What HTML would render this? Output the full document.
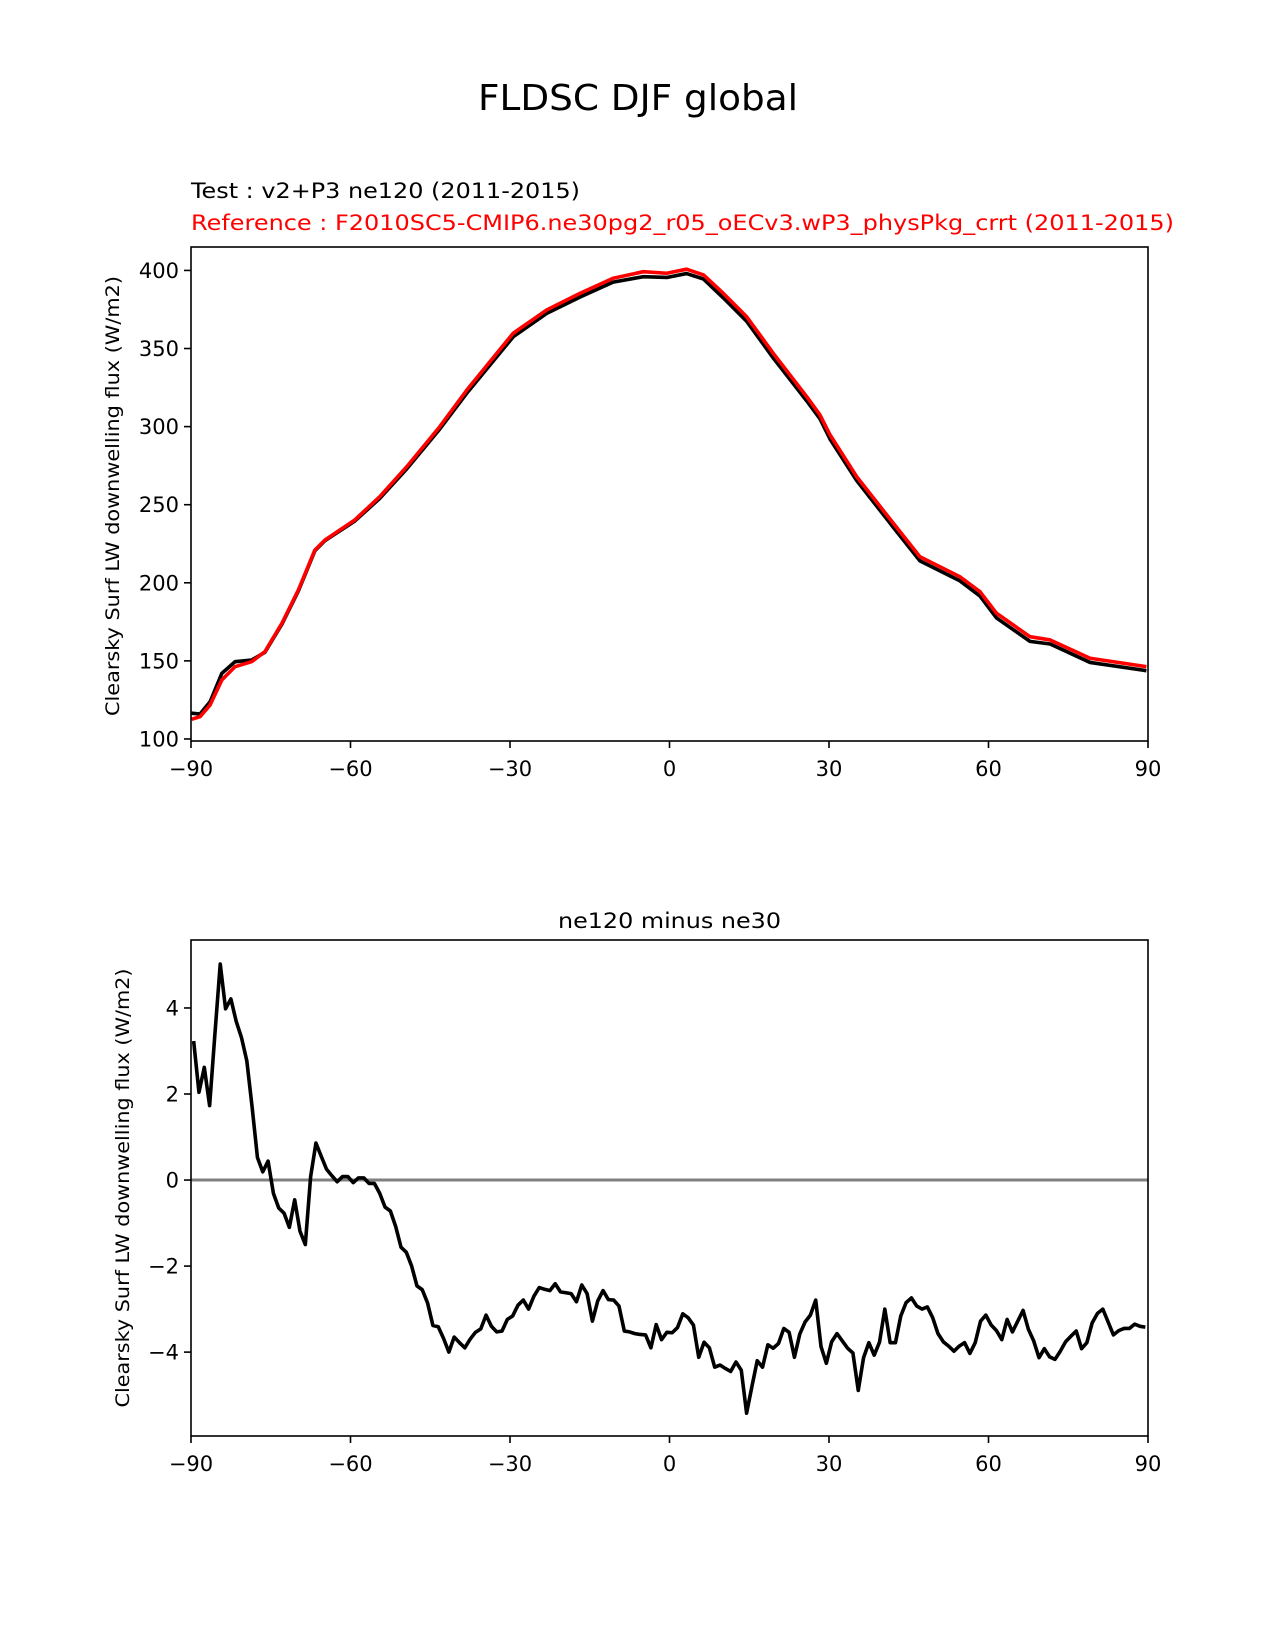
<!DOCTYPE html>
<html><head><meta charset="utf-8"><style>html,body{margin:0;padding:0;background:#fff}svg{display:block}text{font-family:"DejaVu Sans","Liberation Sans",sans-serif}</style></head>
<body>
<svg id="fig" width="1275" height="1650" viewBox="0 0 1275 1650" xmlns="http://www.w3.org/2000/svg">
<rect width="1275" height="1650" fill="#fff"/>
<text x="638" y="110" font-size="36" text-anchor="middle" textLength="320" lengthAdjust="spacingAndGlyphs">FLDSC DJF global</text>
<text x="191" y="198" font-size="21" textLength="389" lengthAdjust="spacingAndGlyphs">Test : v2+P3 ne120 (2011-2015)</text>
<text x="191" y="230" font-size="21" fill="#ff0000" textLength="983" lengthAdjust="spacingAndGlyphs">Reference : F2010SC5-CMIP6.ne30pg2_r05_oECv3.wP3_physPkg_crrt (2011-2015)</text>
<text x="669.5" y="928" font-size="21" text-anchor="middle" textLength="223" lengthAdjust="spacingAndGlyphs">ne120 minus ne30</text>
<text transform="translate(119,496) rotate(-90)" font-size="19" text-anchor="middle" textLength="440" lengthAdjust="spacingAndGlyphs">Clearsky Surf LW downwelling flux (W/m2)</text>
<text transform="translate(129,1188) rotate(-90)" font-size="19" text-anchor="middle" textLength="439" lengthAdjust="spacingAndGlyphs">Clearsky Surf LW downwelling flux (W/m2)</text>
<g id="top"></g>
<g id="bot"></g>
</svg>
<script>
const latsTop = [-89.9,-88.3,-86.4,-84.2,-81.7,-78.6,-76.1,-72.9,-69.8,-66.7,-64.8,-59.2,-54.5,-49.4,-43.2,-38.1,-29.4,-23.1,-16.8,-10.6,-4.9,-0.5,3.2,6.4,10.1,14.5,19.5,25.8,28.3,30.2,35.2,42.1,47.1,54.6,58.4,61.5,67.8,71.6,79.1,89.7];
const refVals = [112.6,114.3,121.8,137.8,146.3,149.5,155.9,174.1,195.4,221,227.4,240.2,255.1,274.4,300.0,323.5,359.8,374.7,385.4,395.0,399.2,398.2,400.8,397.1,385.4,370.4,347,319.2,307.5,294.7,268,238.1,216.7,203.9,194.3,180.5,165.5,163.4,151.7,146.3];
const testVals = [116.5,116,123.9,142,149.5,150.5,155.5,173.5,194.8,220.5,227,239.5,254,273,298.5,321.5,357.5,372.5,383,392.5,396,395.5,398,394.5,382.5,367.5,344,316.5,305,292,265.5,235.5,214,201.3,191.5,177.5,162.5,160.8,149,143.7];
const diffStartLat = -89.5;
const diffVals = [3.23,2.04,2.62,1.73,3.4,5.02,3.98,4.21,3.69,3.31,2.77,1.69,0.52,0.19,0.44,-0.31,-0.65,-0.77,-1.1,-0.46,-1.19,-1.5,0.08,0.86,0.55,0.25,0.1,-0.04,0.08,0.08,-0.06,0.05,0.05,-0.08,-0.08,-0.31,-0.63,-0.72,-1.08,-1.56,-1.68,-2.0,-2.46,-2.55,-2.86,-3.38,-3.41,-3.68,-4.0,-3.65,-3.78,-3.9,-3.7,-3.54,-3.46,-3.14,-3.40,-3.53,-3.51,-3.24,-3.16,-2.91,-2.79,-3.0,-2.70,-2.50,-2.54,-2.57,-2.41,-2.60,-2.62,-2.64,-2.83,-2.44,-2.64,-3.28,-2.81,-2.57,-2.78,-2.79,-2.93,-3.51,-3.53,-3.57,-3.59,-3.60,-3.90,-3.36,-3.71,-3.54,-3.55,-3.43,-3.11,-3.20,-3.37,-4.12,-3.77,-3.9,-4.35,-4.30,-4.38,-4.45,-4.23,-4.42,-5.42,-4.80,-4.20,-4.35,-3.83,-3.91,-3.80,-3.45,-3.54,-4.12,-3.58,-3.30,-3.14,-2.79,-3.87,-4.26,-3.76,-3.57,-3.74,-3.91,-4.02,-4.89,-4.13,-3.78,-4.07,-3.77,-3.0,-3.78,-3.78,-3.16,-2.85,-2.74,-2.93,-3.0,-2.95,-3.2,-3.57,-3.76,-3.86,-3.98,-3.86,-3.78,-4.03,-3.78,-3.28,-3.14,-3.37,-3.5,-3.71,-3.24,-3.53,-3.28,-3.03,-3.47,-3.74,-4.13,-3.92,-4.11,-4.17,-3.98,-3.76,-3.63,-3.51,-3.92,-3.78,-3.32,-3.1,-3.0,-3.3,-3.6,-3.5,-3.45,-3.45,-3.35,-3.4,-3.42];
const xTicks = [-90,-60,-30,0,30,60,90];
const topYTicks = [100,150,200,250,300,350,400];
const botYTicks = [-4,-2,0,2,4];

const NS = 'http://www.w3.org/2000/svg';
function mk(parent, tag, attrs){const e=document.createElementNS(NS,tag);for(const k in attrs)e.setAttribute(k,attrs[k]);parent.appendChild(e);return e;}
function fmt(v){return v<0?'\u2212'+Math.abs(v):''+v;}

function panel(g, box, ymin, ymax, yTicks, prefix){
  const sx = v => box.l + (v+90)/180*(box.r-box.l);
  const sy = v => box.b - (v-ymin)/(ymax-ymin)*(box.b-box.t);
  xTicks.forEach(t=>{
    const tk = mk(g,'line',{x1:sx(t),x2:sx(t),y1:box.b,y2:box.b+7,stroke:'#000','stroke-width':1.6});
    
    
    const tl = mk(g,'text',{x:sx(t),y:box.b+35,'font-size':21,'text-anchor':'middle'});
    tl.textContent = fmt(t);
    
    
  });
  yTicks.forEach(t=>{
    const tk = mk(g,'line',{x1:box.l-7,x2:box.l,y1:sy(t),y2:sy(t),stroke:'#000','stroke-width':1.6});
    
    
    const tl = mk(g,'text',{x:box.l-12,y:sy(t)+7.5,'font-size':21,'text-anchor':'end'});
    tl.textContent = fmt(t);
    
    
  });
  return {sx, sy};
}
function line(g, sx, sy, xs, ys, color, w, name){
  const d = xs.map((x,i)=>(i?'L':'M')+sx(x).toFixed(2)+','+sy(ys[i]).toFixed(2)).join(' ');
  const p = mk(g,'path',{d:d,fill:'none',stroke:color,'stroke-width':w,'stroke-linejoin':'round','stroke-linecap':'butt'});
  
  
  return p;
}

// Top panel
const gt = document.getElementById('top');
const tbox = {l:191,r:1148,t:247,b:741};
const tp = panel(gt, tbox, 98.7, 415, topYTicks, 'top');
const clipT = mk(gt,'clipPath',{id:'ct'}); mk(clipT,'rect',{x:tbox.l,y:tbox.t,width:tbox.r-tbox.l,height:tbox.b-tbox.t});
const gtl = mk(gt,'g',{'clip-path':'url(#ct)'});
line(gtl, tp.sx, tp.sy, latsTop, testVals, '#000', 3.6, 'test-line');
line(gtl, tp.sx, tp.sy, latsTop, refVals, '#ff0000', 3.6, 'reference-line');
const ft = mk(gt,'rect',{x:tbox.l,y:tbox.t,width:tbox.r-tbox.l,height:tbox.b-tbox.t,fill:'none',stroke:'#000','stroke-width':1.6});



// Bottom panel
const gb = document.getElementById('bot');
const bbox = {l:191,r:1148,t:940,b:1436};
const bp = panel(gb, bbox, -5.95, 5.58, botYTicks, 'bottom');
const clipB = mk(gb,'clipPath',{id:'cb'}); mk(clipB,'rect',{x:bbox.l,y:bbox.t,width:bbox.r-bbox.l,height:bbox.b-bbox.t});
const gbl = mk(gb,'g',{'clip-path':'url(#cb)'});
const zl = mk(gbl,'line',{x1:bbox.l,x2:bbox.r,y1:bp.sy(0),y2:bp.sy(0),stroke:'#808080','stroke-width':3});


const diffLats = diffVals.map((v,i)=>diffStartLat+i);
line(gbl, bp.sx, bp.sy, diffLats, diffVals, '#000', 3.6, 'difference-line');
const fb = mk(gb,'rect',{x:bbox.l,y:bbox.t,width:bbox.r-bbox.l,height:bbox.b-bbox.t,fill:'none',stroke:'#000','stroke-width':1.6});


</script>
</body></html>
